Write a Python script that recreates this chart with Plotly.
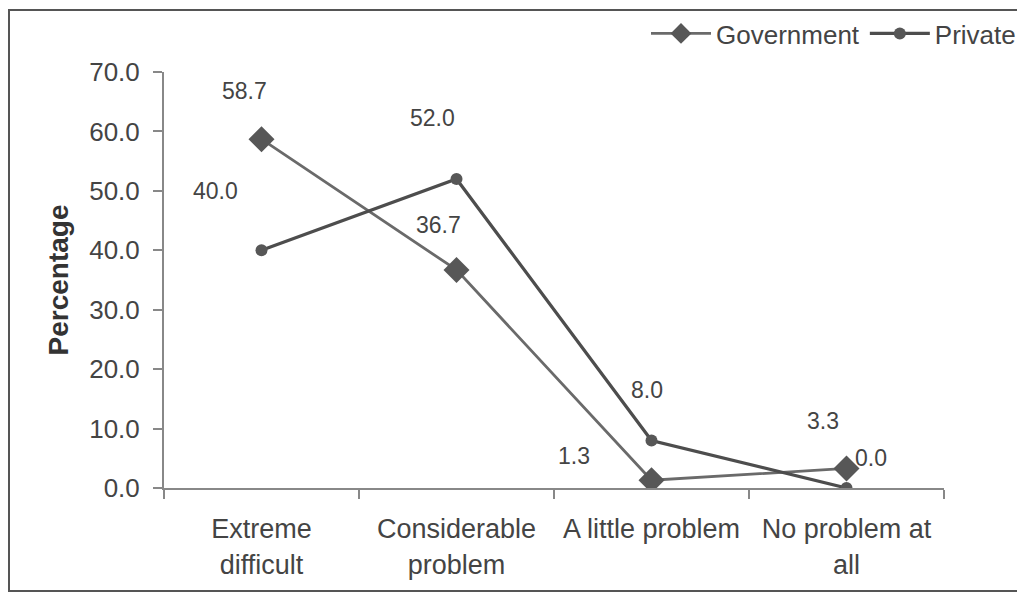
import plotly.graph_objects as go

categories = ["Extreme<br>difficult", "Considerable<br>problem", "A little problem", "No problem at<br>all"]
government = [58.7, 36.7, 1.3, 3.3]
private = [40.0, 52.0, 8.0, 0.0]
y_ticks = [0, 10, 20, 30, 40, 50, 60, 70]

# label offsets in pixels (style only)
gov_shift = [(-17, 48), (-18, 45), (-78, 24), (-24, 47)]
prv_shift = [(-46, 59), (-24, 61), (-5, 50), (24, 30)]

FONT = "Arial, Liberation Sans, sans-serif"
GOV_C = "#6a6a6a"
PRV_C = "#4d4d4d"
TXT = "#444444"

fig = go.Figure()
fig.add_trace(go.Scatter(
    x=categories, y=government, name="Government", mode="lines+markers",
    line=dict(color=GOV_C, width=2.8),
    marker=dict(symbol="diamond", size=20, color="#575757"),
))
fig.add_trace(go.Scatter(
    x=categories, y=private, name="Private", mode="lines+markers",
    line=dict(color=PRV_C, width=3.2),
    marker=dict(symbol="circle", size=12, color="#575757"),
))

for vals, shifts in ((government, gov_shift), (private, prv_shift)):
    for c, v, (dx, dy) in zip(categories, vals, shifts):
        fig.add_annotation(x=c, y=v, text=f"{v:.1f}", showarrow=False,
                           xshift=dx, yshift=dy,
                           font=dict(family=FONT, size=23, color=TXT))

# page has an 8px body margin; figure coords = page coords - 8
W, H = 1017, 587
L, R, T, B = 156, 81, 64, 107
pw, ph = W - L - R, H - T - B
def px(x):
    return (x - 8 - L) / pw
def py(y):
    return (H - B - (y - 8)) / ph

fig.add_shape(type="rect", xref="paper", yref="paper",
              x0=px(9), x1=px(1020), y0=py(591), y1=py(10),
              line=dict(color="#555555", width=2), layer="below")

fig.update_layout(
    width=W, height=H,
    margin=dict(l=L, r=R, t=T, b=B, autoexpand=False),
    paper_bgcolor="white", plot_bgcolor="white",
    font=dict(family=FONT, color=TXT, size=26),
    showlegend=True,
    legend=dict(orientation="h", xref="container", yref="container",
                x=(1021 - 8) / W, xanchor="right", y=1 - (10 - 8) / H, yanchor="top",
                font=dict(size=26, color=TXT), bgcolor="rgba(0,0,0,0)",
                itemwidth=60, tracegroupgap=0),
    xaxis=dict(
        type="category", range=[-0.5, 3.5], showgrid=False,
        showline=True, linecolor="#888888", linewidth=2,
        ticks="outside", tickson="boundaries", ticklen=9, tickcolor="#888888", tickwidth=2,
        tickfont=dict(size=27, color=TXT), ticklabelstandoff=16, automargin=False,
    ),
    yaxis=dict(
        range=[0, 70], tickvals=y_ticks, tickformat=".1f", showgrid=False, zeroline=False,
        showline=True, linecolor="#888888", linewidth=2,
        ticks="outside", ticklen=9, tickcolor="#888888", tickwidth=2,
        tickfont=dict(size=26, color=TXT), ticklabelstandoff=8, automargin=False,
        title=dict(text="<b>Percentage</b>", font=dict(size=28, color="#333333"), standoff=12),
    ),
)

fig.write_html("out.html")
